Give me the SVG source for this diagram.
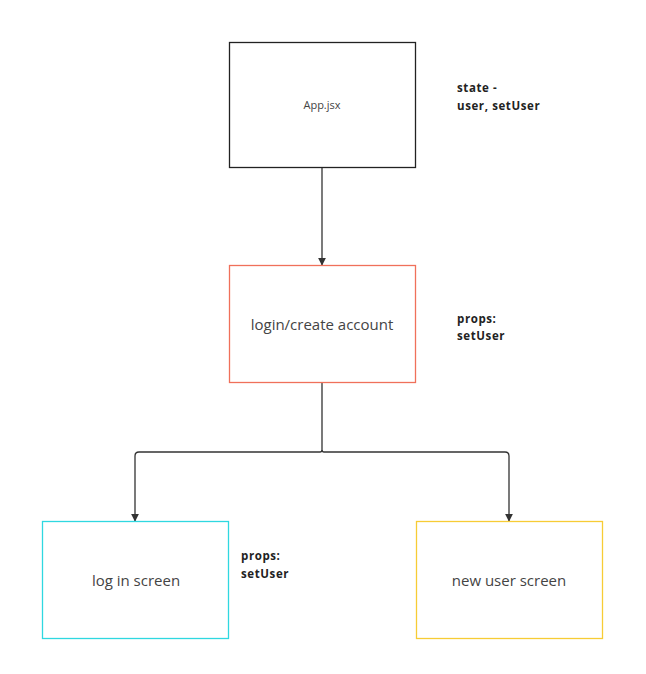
<svg xmlns="http://www.w3.org/2000/svg" width="646" height="674" viewBox="0 0 646 674">
<style>
.box{fill:#fff;stroke-width:1.3}
.t{font-family:"Open Sans","Noto Sans",sans-serif;fill:#444;text-anchor:middle}
.lbl{font-family:"Open Sans","Noto Sans",sans-serif;fill:#222;font-weight:bold;font-size:11.5px;letter-spacing:0.6px}
.c{fill:none;stroke:#333;stroke-width:1.3}
</style>
<defs>
<marker id="ah" viewBox="0 0 10 10" refX="9" refY="5" markerWidth="8" markerHeight="8" markerUnits="userSpaceOnUse" orient="auto">
<path d="M0,0 L10,5 L0,10 z" fill="#333"/>
</marker>
</defs>
<rect width="646" height="674" fill="#fff"/>
<g id="connectors">
<path class="c" d="M322,167 V265" marker-end="url(#ah)"/>
<path class="c" d="M322,383 V450 Q322,452 320,452 H139 Q135,452 135,456 V521" marker-end="url(#ah)"/>
<path class="c" d="M322,450 Q322,452 324,452 H505 Q509,452 509,456 V521" marker-end="url(#ah)"/>
</g>
<g id="app">
<rect class="box" x="229.5" y="42.5" width="186" height="125" stroke="#222"/>
<text class="t" x="322" y="109" font-size="11">App.jsx</text>
</g>
<g id="login-create">
<rect class="box" x="229.5" y="265.5" width="186" height="117" stroke="#f0705a"/>
<text class="t" x="322" y="330" font-size="15">login/create account</text>
</g>
<g id="login-screen">
<rect class="box" x="42.5" y="521.5" width="186" height="117" stroke="#2fd8e0"/>
<text class="t" x="136" y="586" font-size="15">log in screen</text>
</g>
<g id="new-user">
<rect class="box" x="416.5" y="521.5" width="186" height="117" stroke="#f7cc35"/>
<text class="t" x="509" y="586" font-size="15">new user screen</text>
</g>
<g id="labels">
<text class="lbl" x="457" y="92">state -</text>
<text class="lbl" x="457" y="110">user, setUser</text>
<text class="lbl" x="457" y="323">props:</text>
<text class="lbl" x="457" y="340">setUser</text>
<text class="lbl" x="241" y="560">props:</text>
<text class="lbl" x="241" y="578">setUser</text>
</g>
</svg>
